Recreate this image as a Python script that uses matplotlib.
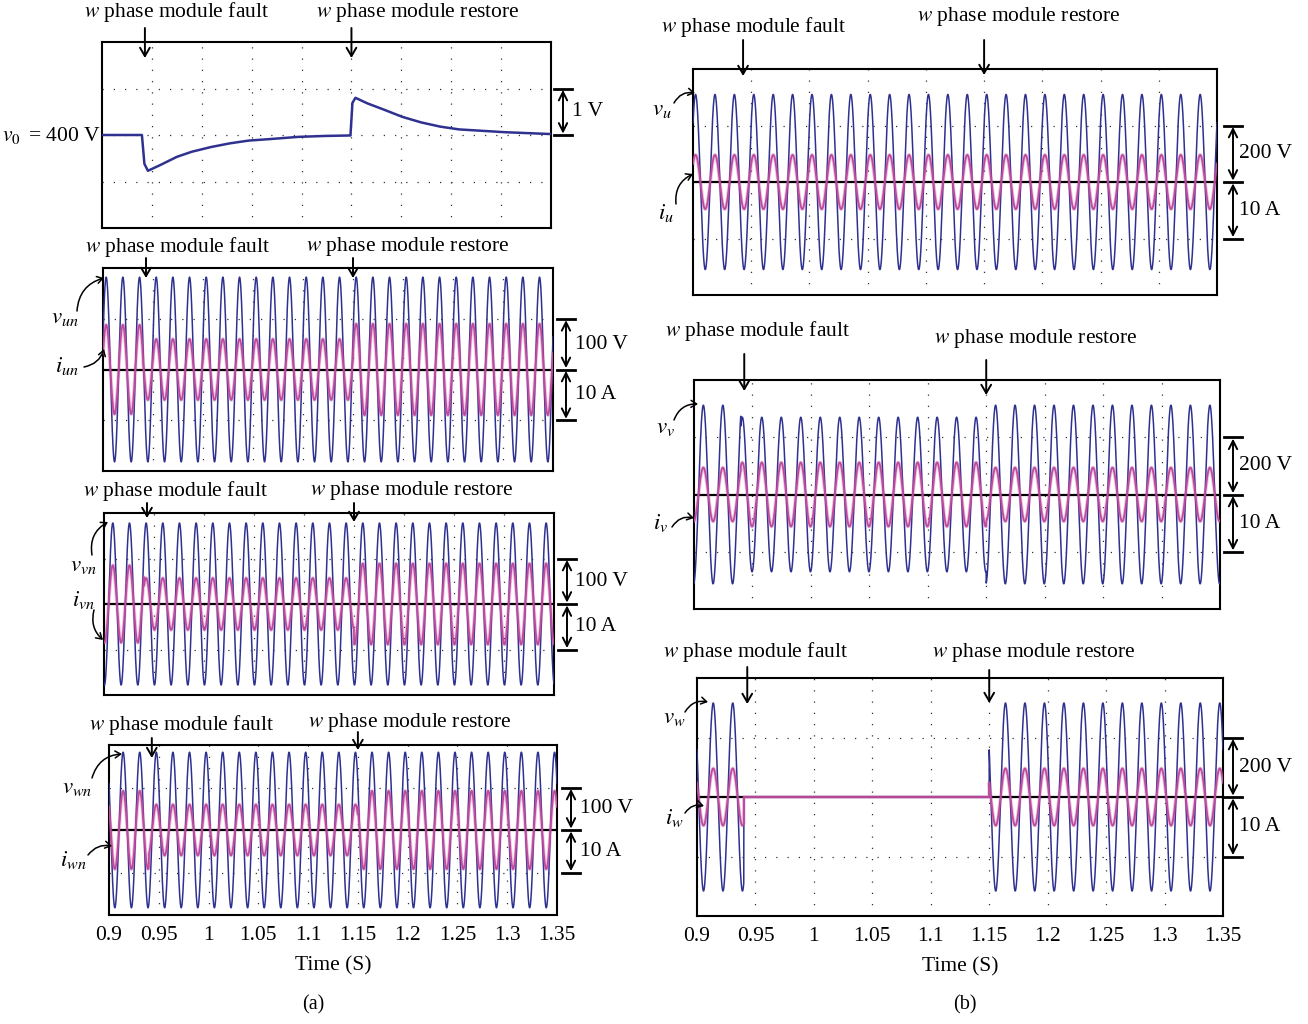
import numpy as np
import matplotlib
matplotlib.use('Agg')
import matplotlib.pyplot as plt
from matplotlib.transforms import blended_transform_factory

W, H = 1308, 1024

# time axis and events (s)
T_START, T_END = 0.9, 1.35
TICKS = [0.9, 0.95, 1.0, 1.05, 1.1, 1.15, 1.2, 1.25, 1.3, 1.35]
TICK_LABELS = ['0.9', '0.95', '1', '1.05', '1.1', '1.15', '1.2', '1.25', '1.3', '1.35']
FREQ = 60.0
SEG_T = [0.9, 0.94, 1.15, 1.35]          # before fault / fault / restored
FAULT_ARROW_T = 0.943
RESTORE_ARROW_T = 1.15

# dc-link voltage deviation from 400 V (V) (a) top
V0_T = [0.9, 0.940, 0.9425, 0.946, 0.959, 0.975, 0.990, 1.009, 1.028, 1.047,
        1.067, 1.097, 1.124, 1.149, 1.151, 1.154, 1.166, 1.182, 1.201, 1.220,
        1.239, 1.258, 1.281, 1.304, 1.35]
V0_DEV = [0.0, 0.0, -0.62, -0.77, -0.64, -0.47, -0.36, -0.26, -0.18, -0.12,
          -0.09, -0.04, -0.02, -0.01, 0.69, 0.80, 0.68, 0.55, 0.39, 0.27,
          0.18, 0.12, 0.09, 0.06, 0.02]

# (a) load side phase voltages/currents, amplitude per segment
A_V_AMP = {'u': [182, 182, 182], 'v': [178, 178, 178], 'w': [183, 183, 183]}   # V
A_I_AMP = {'u': [8.8, 6.0, 9.0], 'v': [8.5, 5.7, 8.9], 'w': [9.2, 6.0, 9.2]}    # A
A_PEAK_T = {'u': 0.9032, 'v': 0.9088, 'w': 0.9142}

# (b) converter phase voltages/currents, amplitude per segment
B_V_AMP = {'u': [310, 310, 310], 'v': [312, 270, 312], 'w': [316, 0, 316]}      # V
B_I_AMP = {'u': [4.8, 4.8, 4.8], 'v': [4.7, 5.6, 4.7], 'w': [4.8, 0.0, 4.8]}    # A
B_PEAK_T = {'u': 0.9022, 'v': 0.9080, 'w': 0.9139}

V_COLOR = '#2f3190'
I_COLOR = '#c04a9e'
GRID_DOTS = (0, (1, 8))

plt.rcParams['font.family'] = ['Liberation Serif', 'DejaVu Serif']
plt.rcParams['mathtext.fontset'] = 'stix'
FS = 15.5

fig = plt.figure(figsize=(W / 100, H / 100), dpi=100)


def fx(px):
    return px / W


def fy(py):
    return 1 - py / H


def make_axes(x0, y0, x1, y1):
    ax = fig.add_axes([fx(x0), fy(y1), fx(x1) - fx(x0), fy(y0) - fy(y1)])
    ax.set_xlim(T_START, T_END)
    ax.set_ylim(-2, 2)
    for t in TICKS[1:-1]:
        ax.axvline(t, color='#333333', lw=0.9, ls=GRID_DOTS, zorder=1)
    for lv in (-1, 1):
        ax.axhline(lv, color='#333333', lw=0.9, ls=GRID_DOTS, zorder=1)
    ax.set_xticks(TICKS)
    ax.set_xticklabels([])
    ax.set_yticks([])
    ax.tick_params(length=0, labelsize=FS, pad=8)
    for s in ax.spines.values():
        s.set_linewidth(1.5)
    return ax


def event_labels(ax, fault_xy, restore_xy, fault_y, restore_y):
    fig.text(fx(fault_xy[0]), fy(fault_xy[1]), r'$w$ phase module fault',
             ha='center', va='center', fontsize=FS)
    fig.text(fx(restore_xy[0]), fy(restore_xy[1]), r'$w$ phase module restore',
             ha='center', va='center', fontsize=FS)
    for t, (ya, yb) in ((FAULT_ARROW_T, fault_y), (RESTORE_ARROW_T, restore_y)):
        ax.annotate('', xy=(t, fy(yb)), xytext=(t, fy(ya)),
                    xycoords=('data', 'figure fraction'),
                    textcoords=('data', 'figure fraction'),
                    arrowprops=dict(arrowstyle='->,head_length=0.6,head_width=0.35',
                                    lw=1.4, color='black', shrinkA=0, shrinkB=0),
                    annotation_clip=False)


def curve_label(text, txy, a0, a1, rad):
    fig.text(fx(txy[0]), fy(txy[1]), text, ha='center', va='center', fontsize=FS + 1)
    fig.add_artist(matplotlib.patches.FancyArrowPatch(
        (fx(a0[0]), fy(a0[1])), (fx(a1[0]), fy(a1[1])), transform=fig.transFigure,
        arrowstyle='->,head_length=4,head_width=2.5', connectionstyle=f'arc3,rad={rad}',
        lw=1.1, color='black', shrinkA=0, shrinkB=0))


def scale_bar(ax, bx, tx, labels):
    tr = blended_transform_factory(fig.transFigure, ax.transData)
    levels = [1, 0] if len(labels) == 1 else [1, 0, -1]
    for lv in levels:
        ax.plot([fx(bx - 9), fx(bx + 9)], [lv, lv], color='black', lw=2,
                transform=tr, clip_on=False)
    for k, lab in enumerate(labels):
        top, bot = levels[k], levels[k + 1]
        ax.annotate('', xy=(fx(bx), bot), xytext=(fx(bx), top),
                    xycoords=('figure fraction', 'data'),
                    textcoords=('figure fraction', 'data'),
                    arrowprops=dict(arrowstyle='<->,head_length=0.6,head_width=0.3',
                                    lw=1.4, color='black', shrinkA=1, shrinkB=1),
                    annotation_clip=False)
        ax.text(fx(tx), (top + bot) / 2, lab, transform=tr, ha='left',
                va='center', fontsize=FS)


def wave_panel(ax, v_amp, i_amp, peak_t, v_div, i_div):
    t = np.linspace(T_START, T_END, 8000)
    seg = np.searchsorted(SEG_T[1:-1], t, side='right')
    ph = np.cos(2 * np.pi * FREQ * (t - peak_t))
    v = np.asarray(v_amp, float)[seg] / v_div * ph
    i = np.asarray(i_amp, float)[seg] / i_div * ph
    ax.axhline(0, color='black', lw=1.6, zorder=2)
    ax.plot(t, v, color=V_COLOR, lw=1.1, zorder=3)
    ax.plot(t, i, color=I_COLOR, lw=2.6, alpha=0.3, zorder=4)
    ax.plot(t, i, color=I_COLOR, lw=1.3, zorder=5)


# ---------------- (a) ----------------
ax = make_axes(102, 42, 551, 228)
ax.plot(V0_T, V0_DEV, color=V_COLOR, lw=1.8, zorder=3)
ax.axhline(0, color='#333333', lw=0.9, ls=GRID_DOTS, zorder=1)
event_labels(ax, (177, 12), (418, 12), (28, 58), (28, 58))
fig.text(fx(100), fy(135), r'$v_0\,$ = 400 V', ha='right', va='center', fontsize=FS)
scale_bar(ax, 563, 572, ['1 V'])

boxes_a = [(103, 268, 553, 471), (104, 513, 554, 695), (109, 745, 557, 915)]
phases = ['u', 'v', 'w']
ev_a = [((178, 247), (408, 247), (258, 278), (258, 278)),
        ((176, 491), (412, 491), (503, 518), (503, 522)),
        ((182, 725), (410, 722), (738, 758), (732, 750))]
labels_a = [((65, 318), (77, 311), (104, 278), (67, 366), (84, 367), (104, 349)),
            ((83, 565), (92, 555), (108, 522), (84, 600), (94, 610), (103, 640)),
            ((77, 788), (92, 778), (122, 754), (73, 860), (88, 855), (112, 846))]
bars_a = [(566, 575), (567, 575), (571, 580)]
for k, ph in enumerate(phases):
    ax = make_axes(*boxes_a[k])
    wave_panel(ax, A_V_AMP[ph], A_I_AMP[ph], A_PEAK_T[ph], 100, 10)
    event_labels(ax, *ev_a[k])
    lv, a0, a1, li, b0, b1 = labels_a[k]
    curve_label(rf'$v_{{{ph}n}}$', lv, a0, a1, -0.35)
    curve_label(rf'$i_{{{ph}n}}$', li, b0, b1, 0.3 if k < 2 else -0.3)
    scale_bar(ax, bars_a[k][0], bars_a[k][1], ['100 V', '10 A'])
    if k == 2:
        ax.set_xticklabels(TICK_LABELS)
        ax.set_xlabel('Time (S)', fontsize=FS, labelpad=8)
fig.text(fx(313), fy(1005), '(a)', ha='center', va='center', fontsize=FS - 1)

# ---------------- (b) ----------------
boxes_b = [(693, 69, 1217, 295), (694, 380, 1220, 609), (697, 678, 1223, 916)]
ev_b = [((754, 27), (1019, 16), (40, 76), (40, 75)),
        ((758, 331), (1036, 339), (354, 391), (360, 395)),
        ((756, 652), (1034, 652), (667, 704), (670, 703))]
labels_b = [((662, 110), (674, 103), (695, 93), (666, 213), (676, 204), (693, 174)),
            ((665, 428), (674, 420), (698, 404), (661, 523), (672, 527), (694, 518)),
            ((674, 718), (685, 712), (708, 702), (674, 818), (685, 813), (704, 806))]
for k, ph in enumerate(phases):
    ax = make_axes(*boxes_b[k])
    wave_panel(ax, B_V_AMP[ph], B_I_AMP[ph], B_PEAK_T[ph], 200, 10)
    event_labels(ax, *ev_b[k])
    lv, a0, a1, li, b0, b1 = labels_b[k]
    curve_label(rf'$v_{{{ph}}}$', lv, a0, a1, -0.35)
    curve_label(rf'$i_{{{ph}}}$', li, b0, b1, -0.35)
    scale_bar(ax, 1233, 1239, ['200 V', '10 A'])
    if k == 2:
        ax.set_xticklabels(TICK_LABELS)
        ax.set_xlabel('Time (S)', fontsize=FS, labelpad=8)
fig.text(fx(965), fy(1005), '(b)', ha='center', va='center', fontsize=FS - 1)

fig.savefig('out.png', dpi=100)
